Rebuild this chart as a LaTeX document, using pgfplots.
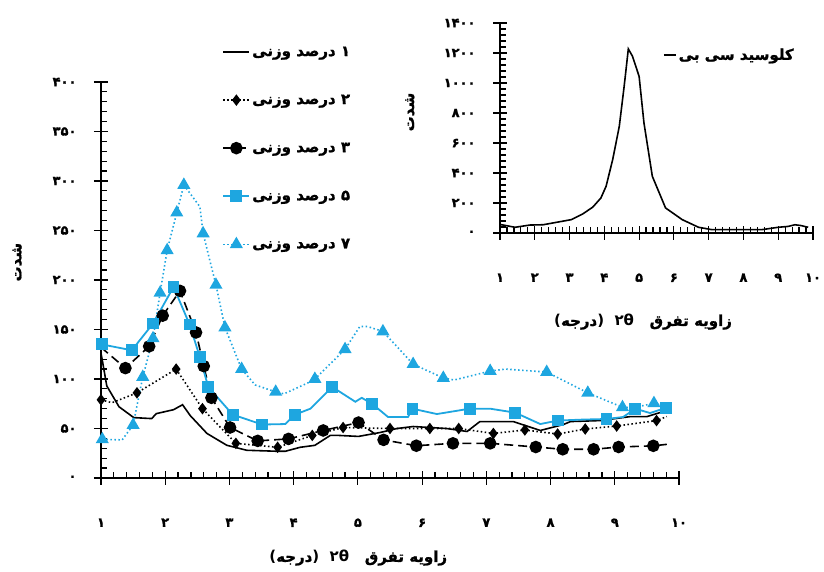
\documentclass[border=0pt]{standalone}
\usepackage{pgfplots}
\pgfplotsset{compat=1.18}
\usepackage{fontspec}
\newfontfamily\fa[Script=Arabic, BoldFont={DejaVu Sans Bold}, BoldFeatures={FakeBold=1.2}]{DejaVu Sans}
\newfontfamily\lat[BoldFont={DejaVu Sans Bold}]{DejaVu Sans}
\TeXXeTstate=1
\definecolor{cy}{RGB}{30,166,224}
\newcommand\fab{\fa\bfseries\fontsize{13}{15}\selectfont}
\newcommand\fal{\fa\bfseries\fontsize{15}{17}\selectfont}
\newcommand\xrdlabel{{\lat (}\beginR درجه\endR{\lat )}\ \ {\lat ۲θ}\ \ \ \beginR زاویه تفرق\endR}

\pgfplotsset{
  xrd/.style={
    scale only axis, anchor=south west, clip=false,
    xmin=1, xmax=10, ymin=0,
    axis x line*=bottom, axis y line*=left,
    axis line style={line width=1.4pt},
    xtick={1,...,10}, xticklabels={۱,۲,۳,۴,۵,۶,۷,۸,۹,۱۰},
    minor x tick num=4, minor y tick num=4,
    tick align=center,
    major tick length=14pt, minor tick length=6pt,
    tick style={black, line width=1.2pt},
    minor x tick style={yshift=3pt}, minor y tick style={xshift=3pt},
    ticklabel style={font=\fab},
    xticklabel style={yshift=-30pt},
    yticklabel style={xshift=-14pt},
    label style={font=\fal},
    legend style={draw=none, fill=none, font=\fal},
  },
}

\begin{document}
\begin{tikzpicture}
\path[use as bounding box] (0pt,0pt) rectangle (824pt,572pt);

% main chart
\begin{axis}[xrd,
  at={(101pt,94pt)}, width=578pt, height=396pt,
  ymax=400,
  ytick={0,50,...,400}, yticklabels={۰,۵۰,۱۰۰,۱۵۰,۲۰۰,۲۵۰,۳۰۰,۳۵۰,۴۰۰},
  xlabel={\xrdlabel},
  xlabel style={at={(axis description cs:0.445,-0.202)}, anchor=center},
  ylabel={\beginR شدت\endR},
  ylabel style={at={(axis description cs:-0.145,0.545)}, anchor=center},
  legend style={at={(axis description cs:0.44,1.10)}, anchor=north east, row sep=33pt},
  legend image code/.code={\draw[#1, mark indices={2}] plot coordinates {(0pt,0pt)(13pt,0pt)(26pt,0pt)};},
]
\addplot[black, line width=1.6pt] coordinates {
 (1.00,126)(1.02,119)(1.09,93)(1.28,72)(1.51,61)(1.79,60)(1.86,65)(2.13,69)(2.27,74)(2.39,63)
 (2.65,45)(2.96,33)(3.27,28)(3.74,27)(3.87,27)(4.10,31)(4.33,33)(4.57,43)(4.70,43)(5.01,42)
 (5.35,46)(5.61,50)(5.86,52)(6.38,50)(6.70,47)(6.90,57)(7.42,57)(7.84,48)(8.20,54)(8.31,57)
 (8.77,58)(9.24,62)(9.50,62)(9.75,67)(9.81,69)
};
\addlegendentry{\beginR ۱ درصد وزنی\endR}

\addplot[black, line width=1.6pt, dash pattern=on 1.5pt off 2.5pt,
  mark=diamond*, mark size=4.5pt, mark options={solid},
  mark indices={1,3,4,5,6,7,8,9,10,11,12,13,14,15,16,17,18}] coordinates {
 (1.00,79)(1.17,76)(1.56,86)(2.17,110)(2.58,70)(3.10,35)(3.75,31)(4.29,43)(4.77,51)(5.50,50)
 (6.12,50)(6.57,50)(7.11,45)(7.60,48.5)(8.11,44.4)(8.54,49.5)(9.03,52.5)(9.65,58)(9.81,62)
};
\addlegendentry{\beginR ۲ درصد وزنی\endR}

\addplot[black, line width=1.6pt, dash pattern=on 9pt off 5pt,
  mark=*, mark size=5.5pt, mark options={solid},
  mark indices={2,3,4,5,6,7,8,9,10,11,12,13,14,15,16,17,18,19,20,21,22}] coordinates {
 (1.00,132)(1.38,111)(1.75,133)(1.96,164)(2.23,189)(2.48,147)(2.60,113)(2.72,81)(3.01,51)(3.44,37.5)
 (3.92,39.5)(4.46,48)(5.01,56)(5.40,38.5)(5.91,32.6)(6.48,35)(7.06,35)(7.77,31.3)(8.19,29)(8.67,29)
 (9.06,31.3)(9.60,32.5)(9.81,34)
};
\addlegendentry{\beginR ۳ درصد وزنی\endR}

\addplot[cy, line width=1.8pt, mark=square*, mark size=5pt,
  mark indices={1,2,3,4,5,6,7,8,9,11,13,16,19,21,23,25,27,29,31}] coordinates {
 (1.01,135)(1.48,129)(1.81,156)(2.13,193)(2.38,155)(2.54,122)(2.67,92)(3.05,64)(3.51,54)(3.87,54.5)
 (4.02,64)(4.26,70)(4.60,92)(4.96,77)(5.06,81)(5.22,75)(5.47,61.6)(5.78,61.6)(5.85,70)(6.23,64.6)
 (6.74,70)(7.06,70)(7.45,66)(7.84,54.5)(8.11,58)(8.50,59)(8.87,59.6)(9.13,61.6)(9.32,70)(9.55,65.6)
 (9.80,71)
};
\addlegendentry{\beginR ۵ درصد وزنی\endR}

\addplot[cy, line width=1.6pt, dash pattern=on 1.5pt off 2.5pt,
  mark=triangle*, mark size=6pt, mark options={solid},
  mark indices={1,3,4,5,6,7,8,9,11,12,13,14,16,19,20,23,24,25,27,29,30,31,33}] coordinates {
 (1.02,39)(1.33,38.5)(1.50,53.5)(1.65,102)(1.81,141)(1.92,187)(2.03,230)(2.18,268)(2.29,296)(2.54,274)
 (2.59,247)(2.79,195)(2.93,152)(3.19,110)(3.40,94)(3.72,87)(3.85,85)(4.22,96)(4.33,100)(4.80,130)
 (5.03,153)(5.15,153)(5.39,148)(5.86,115)(6.33,101)(6.50,99)(7.06,108)(7.30,110)(7.94,107)(8.58,86)
 (9.12,71.4)(9.32,71.4)(9.61,75.5)(9.81,72)
};
\addlegendentry{\beginR ۷ درصد وزنی\endR}
\end{axis}

% inset: clay alone
\begin{axis}[xrd,
  at={(500pt,339pt)}, width=313pt, height=210pt,
  ymax=1400,
  ytick={0,200,...,1400}, yticklabels={۰,۲۰۰,۴۰۰,۶۰۰,۸۰۰,۱۰۰۰,۱۲۰۰,۱۴۰۰},
  xlabel={\xrdlabel},
  xlabel style={at={(axis description cs:0.457,-0.424)}, anchor=center},
  ylabel={\beginR شدت\endR},
  ylabel style={at={(axis description cs:-0.288,0.576)}, anchor=center},
  legend style={at={(axis description cs:0.955,0.848)}, anchor=east},
  legend image code/.code={\draw[#1] (0pt,0pt) -- (12pt,0pt);},
]
\addplot[black, line width=1.6pt] coordinates {
 (1.00,55)(1.05,55)(1.43,38)(1.86,53)(2.24,55)(2.62,71)(3.05,89)(3.38,127)(3.67,173)(3.90,233)
 (4.05,311)(4.24,489)(4.43,711)(4.57,978)(4.69,1227)(4.81,1178)(5.00,1044)(5.14,733)(5.38,378)(5.76,167)
 (6.24,89)(6.71,38)(7.10,22)(7.76,22)(8.52,22)(9.00,38)(9.29,44)(9.48,55)(9.67,49)(9.86,38)
};
\addlegendentry{\beginR کلوسید سی بی\endR}
\end{axis}
\end{tikzpicture}
\end{document}
